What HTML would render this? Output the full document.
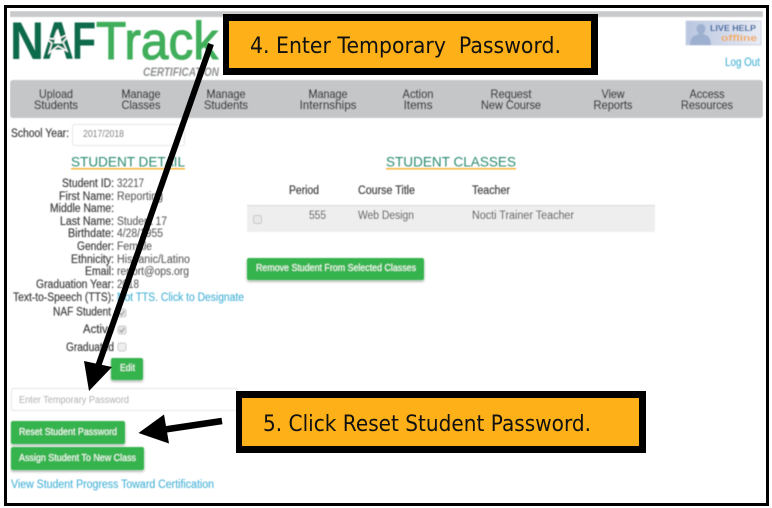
<!DOCTYPE html>
<html>
<head>
<meta charset="utf-8">
<style>
html,body{margin:0;padding:0;background:#fff;width:772px;height:508px;overflow:hidden}
svg{display:block}
text{font-family:"Liberation Sans",sans-serif;white-space:pre}
.n{font-size:12px;fill:#333;stroke:#333;stroke-width:.2;text-anchor:middle}
.l{font-size:11.5px;fill:#3d3d3d;stroke:#3d3d3d;stroke-width:.18}
.v{font-size:11.5px;fill:#5c5c5c;stroke:#5c5c5c;stroke-width:.1}
.a{font-size:11.5px;fill:#45b1d6;stroke:#45b1d6;stroke-width:.1}
.b{font-size:10.5px;fill:#f2fbf3;stroke:#f2fbf3;stroke-width:.12}
.h{font-size:14px;fill:#2a8a70}
.c{font-size:22.5px;fill:#111;font-family:"DejaVu Sans",sans-serif}
</style>
</head>
<body>
<svg width="772" height="508" viewBox="0 0 772 508" xmlns="http://www.w3.org/2000/svg">
<defs>
<filter id="s" x="-10%" y="-30%" width="120%" height="170%"><feDropShadow dx="0" dy="1.5" stdDeviation="1.2" flood-color="#000" flood-opacity=".35"/></filter>
<filter id="bl" x="0" y="0" width="100%" height="100%"><feGaussianBlur stdDeviation="0.42"/></filter>
<linearGradient id="lh" x1="0" x2="1"><stop offset="0" stop-color="#b9c6e0"/><stop offset="1" stop-color="#e8ebf4"/></linearGradient>
</defs>
<rect width="772" height="508" fill="#fff"/>
<g filter="url(#bl)">
<rect x="10" y="11" width="753" height="6" fill="#c9cacc"/>

<!-- logo -->
<text x="10" y="59" font-size="53" font-weight="700" fill="#0b6b4b" textLength="34" lengthAdjust="spacingAndGlyphs">N</text>
<text x="42" y="59" font-size="53" font-weight="700" fill="#0b6b4b" textLength="32" lengthAdjust="spacingAndGlyphs">A</text>
<text x="72" y="59" font-size="53" font-weight="700" fill="#0b6b4b" textLength="24" lengthAdjust="spacingAndGlyphs">F</text>
<polygon points="57,31 60,38 71,33 63,42 67,51 58,46 49,53 52,43 45,38 54,39" fill="none" stroke="#fff" stroke-width="1.4"/>
<text x="96" y="59" font-size="53" fill="#3fae5a" stroke="#3fae5a" stroke-width="1.1" textLength="122" lengthAdjust="spacingAndGlyphs">Track</text>
<text x="143" y="76" font-size="11.5" font-style="italic" font-weight="700" fill="#8f9193" textLength="76" lengthAdjust="spacingAndGlyphs">CERTIFICATION</text>

<!-- live help -->
<rect x="686" y="21" width="75" height="24" fill="url(#lh)" stroke="#cfd5e4"/>
<path d="M690 45 C690 36 696 35 699 34 C695 30 696 24 701 24 C706 24 707 30 703 34 C707 35 711 37 711 45Z" fill="#9db0d0"/>
<text x="710" y="31" font-size="8" font-weight="700" fill="#2f5f9c" textLength="46" lengthAdjust="spacingAndGlyphs">LIVE HELP</text>
<text x="721" y="41" font-size="9" font-weight="700" fill="#f2aa55" textLength="36" lengthAdjust="spacingAndGlyphs">offline</text>
<text x="725" y="66" class="a" textLength="35" lengthAdjust="spacingAndGlyphs">Log Out</text>

<!-- nav -->
<rect x="10" y="80" width="753" height="38" rx="3" fill="#c5c6c8"/>
<text x="56" y="98" class="n" textLength="34" lengthAdjust="spacingAndGlyphs">Upload</text>
<text x="56" y="109" class="n" textLength="44" lengthAdjust="spacingAndGlyphs">Students</text>
<text x="141" y="98" class="n" textLength="39" lengthAdjust="spacingAndGlyphs">Manage</text>
<text x="141" y="109" class="n" textLength="39" lengthAdjust="spacingAndGlyphs">Classes</text>
<text x="226" y="98" class="n" textLength="39" lengthAdjust="spacingAndGlyphs">Manage</text>
<text x="226" y="109" class="n" textLength="44" lengthAdjust="spacingAndGlyphs">Students</text>
<text x="328" y="98" class="n" textLength="39" lengthAdjust="spacingAndGlyphs">Manage</text>
<text x="328" y="109" class="n" textLength="57" lengthAdjust="spacingAndGlyphs">Internships</text>
<text x="418" y="98" class="n" textLength="31" lengthAdjust="spacingAndGlyphs">Action</text>
<text x="418" y="109" class="n" textLength="29" lengthAdjust="spacingAndGlyphs">Items</text>
<text x="511" y="98" class="n" textLength="41" lengthAdjust="spacingAndGlyphs">Request</text>
<text x="511" y="109" class="n" textLength="60" lengthAdjust="spacingAndGlyphs">New Course</text>
<text x="613" y="98" class="n" textLength="23" lengthAdjust="spacingAndGlyphs">View</text>
<text x="613" y="109" class="n" textLength="39" lengthAdjust="spacingAndGlyphs">Reports</text>
<text x="707" y="98" class="n" textLength="35" lengthAdjust="spacingAndGlyphs">Access</text>
<text x="707" y="109" class="n" textLength="52" lengthAdjust="spacingAndGlyphs">Resources</text>

<!-- school year -->
<text x="11" y="137" class="l" textLength="58" lengthAdjust="spacingAndGlyphs">School Year:</text>
<rect x="72.500" y="124.500" width="112" height="21" rx="2" fill="#fff" stroke="#e6e6e6"/>
<text x="83" y="137" font-size="10.5" fill="#666" textLength="41" lengthAdjust="spacingAndGlyphs">2017/2018</text>

<!-- headings -->
<text x="71" y="166.500" class="h" textLength="114" lengthAdjust="spacingAndGlyphs">STUDENT DETAIL</text>
<rect x="71" y="168" width="114" height="1.500" fill="#f9b233"/>
<text x="386" y="166.500" class="h" textLength="130" lengthAdjust="spacingAndGlyphs">STUDENT CLASSES</text>
<rect x="386" y="168" width="130" height="1.500" fill="#f9b233"/>

<!-- details -->
<text x="62" y="187" class="l" textLength="52" lengthAdjust="spacingAndGlyphs">Student ID:</text>
<text x="117" y="187" class="v" textLength="27" lengthAdjust="spacingAndGlyphs">32217</text>
<text x="59" y="200" class="l" textLength="55" lengthAdjust="spacingAndGlyphs">First Name:</text>
<text x="117" y="200" class="v" textLength="46" lengthAdjust="spacingAndGlyphs">Reporting</text>
<text x="50" y="212" class="l" textLength="64" lengthAdjust="spacingAndGlyphs">Middle Name:</text>
<text x="60" y="225" class="l" textLength="54" lengthAdjust="spacingAndGlyphs">Last Name:</text>
<text x="117" y="225" class="v" textLength="50" lengthAdjust="spacingAndGlyphs">Student 17</text>
<text x="68" y="237" class="l" textLength="46" lengthAdjust="spacingAndGlyphs">Birthdate:</text>
<text x="117" y="237" class="v" textLength="46" lengthAdjust="spacingAndGlyphs">4/28/1955</text>
<text x="77" y="250" class="l" textLength="37" lengthAdjust="spacingAndGlyphs">Gender:</text>
<text x="117" y="250" class="v" textLength="35" lengthAdjust="spacingAndGlyphs">Female</text>
<text x="71" y="263" class="l" textLength="43" lengthAdjust="spacingAndGlyphs">Ethnicity:</text>
<text x="117" y="263" class="v" textLength="73" lengthAdjust="spacingAndGlyphs">Hispanic/Latino</text>
<text x="85" y="275" class="l" textLength="29" lengthAdjust="spacingAndGlyphs">Email:</text>
<text x="117" y="275" class="v" textLength="72" lengthAdjust="spacingAndGlyphs">report@ops.org</text>
<text x="36" y="288" class="l" textLength="78" lengthAdjust="spacingAndGlyphs">Graduation Year:</text>
<text x="117" y="288" class="v" textLength="22" lengthAdjust="spacingAndGlyphs">2018</text>
<text x="13" y="301" class="l" textLength="101" lengthAdjust="spacingAndGlyphs">Text-to-Speech (TTS):</text>
<text x="117" y="301" class="a" textLength="127" lengthAdjust="spacingAndGlyphs">Not TTS. Click to Designate</text>

<text x="53" y="315.500" class="l" textLength="58" lengthAdjust="spacingAndGlyphs">NAF Student</text>
<rect x="118" y="309" width="8" height="8" rx="2" fill="#e4e4e4" stroke="#ccc"/>
<path d="M119.500 313 l2 2 l3-4" fill="none" stroke="#888"/>
<text x="83" y="333" class="l" textLength="31" lengthAdjust="spacingAndGlyphs">Active</text>
<rect x="118" y="326" width="8" height="8" rx="2" fill="#e4e4e4" stroke="#ccc"/>
<path d="M119.500 330 l2 2 l3-4" fill="none" stroke="#888"/>
<text x="66" y="351" class="l" textLength="48" lengthAdjust="spacingAndGlyphs">Graduated</text>
<rect x="118" y="343" width="8" height="8" rx="2" fill="#efefef" stroke="#ccc"/>

<!-- buttons left -->
<rect x="111" y="358" width="32" height="22" rx="2" fill="#34b34e" filter="url(#s)"/>
<text x="120" y="371" class="b" textLength="15" lengthAdjust="spacingAndGlyphs">Edit</text>
<rect x="11.500" y="388.500" width="226" height="22" rx="2" fill="#fff" stroke="#e4e4e4"/>
<text x="19" y="403" font-size="10" fill="#a8a8a8" textLength="110" lengthAdjust="spacingAndGlyphs">Enter Temporary Password</text>
<rect x="11" y="421" width="114" height="23" rx="2" fill="#34b34e" filter="url(#s)"/>
<text x="19" y="435" class="b" textLength="98" lengthAdjust="spacingAndGlyphs">Reset Student Password</text>
<rect x="11" y="447" width="133" height="23" rx="2" fill="#34b34e" filter="url(#s)"/>
<text x="19" y="461" class="b" textLength="117" lengthAdjust="spacingAndGlyphs">Assign Student To New Class</text>
<text x="11" y="488" class="a" textLength="203" lengthAdjust="spacingAndGlyphs">View Student Progress Toward Certification</text>

<!-- table -->
<text x="289" y="194" class="l" textLength="30" lengthAdjust="spacingAndGlyphs">Period</text>
<text x="358" y="194" class="l" textLength="57" lengthAdjust="spacingAndGlyphs">Course Title</text>
<text x="472" y="194" class="l" textLength="38" lengthAdjust="spacingAndGlyphs">Teacher</text>
<rect x="247" y="205" width="408" height="1" fill="#d8d8d8"/>
<rect x="247" y="206" width="408" height="26" fill="#eeeeee"/>
<text x="309" y="219" class="v" textLength="17" lengthAdjust="spacingAndGlyphs">555</text>
<text x="358" y="219" class="v" textLength="56" lengthAdjust="spacingAndGlyphs">Web Design</text>
<text x="472" y="219" class="v" textLength="102" lengthAdjust="spacingAndGlyphs">Nocti Trainer Teacher</text>
<rect x="253.500" y="215.500" width="8" height="8" rx="2" fill="#e8e8e8" stroke="#c4c4c4"/>
<rect x="247" y="258" width="177" height="22" rx="2" fill="#34b34e" filter="url(#s)"/>
<text x="256" y="271" class="b" textLength="160" lengthAdjust="spacingAndGlyphs">Remove Student From Selected Classes</text>
</g>

<!-- arrows -->
<line x1="211" y1="44" x2="98.500" y2="365" stroke="#000" stroke-width="6"/>
<polygon points="84,361 112,367 89,391" fill="#000"/>
<line x1="165" y1="429.500" x2="222" y2="421" stroke="#000" stroke-width="6.500"/>
<polygon points="138.500,433 164,414.500 169,443.500" fill="#000"/>

<!-- callouts -->
<rect x="223" y="14" width="375" height="61" fill="#000"/>
<rect x="229" y="21" width="362" height="47" fill="#fdb017"/>
<text x="250" y="53" class="c" textLength="311" lengthAdjust="spacingAndGlyphs">4. Enter Temporary  Password.</text>
<rect x="236" y="391" width="410" height="62" fill="#000"/>
<rect x="242" y="398" width="397" height="48" fill="#fdb017"/>
<text x="263" y="431" class="c" textLength="328" lengthAdjust="spacingAndGlyphs">5. Click Reset Student Password.</text>

<!-- outer frame -->
<rect x="5.500" y="6.500" width="762" height="498" fill="none" stroke="#000" stroke-width="3"/>
</svg>
</body>
</html>
